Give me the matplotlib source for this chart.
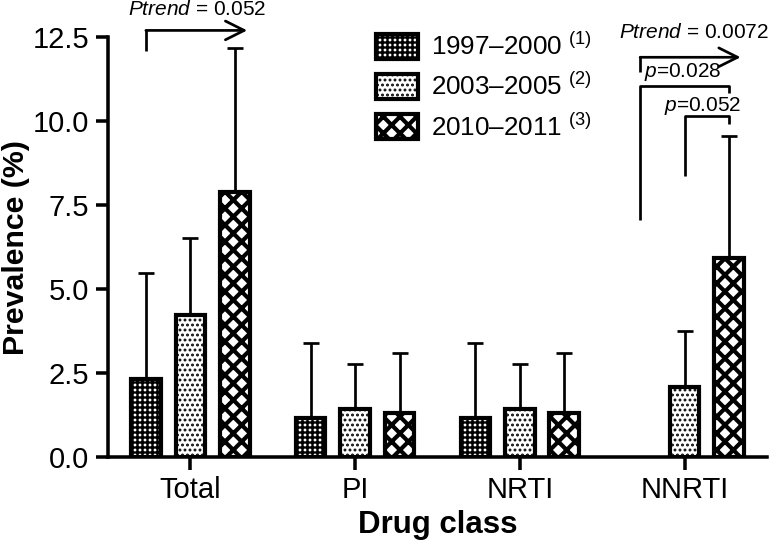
import numpy as np
import matplotlib
matplotlib.use("Agg")
import matplotlib.pyplot as plt

plt.rcParams['font.family'] = ['Liberation Sans', 'DejaVu Sans']
plt.rcParams['mathtext.fontset'] = 'custom'
plt.rcParams['mathtext.rm'] = 'Liberation Sans'
plt.rcParams['mathtext.it'] = 'Liberation Sans:italic'

categories = ['Total', 'PI', 'NRTI', 'NNRTI']
periods = ['1997–2000', '2003–2005', '2010–2011']
prev_9700 = [2.33, 1.16, 1.16, 0.0]
prev_0305 = [4.24, 1.43, 1.43, 2.09]
prev_1011 = [7.91, 1.31, 1.31, 5.94]
upper_9700 = [5.49, 3.40, 3.40, 0.0]
upper_0305 = [6.54, 2.78, 2.78, 3.76]
upper_1011 = [12.18, 3.10, 3.10, 9.55]

values = [prev_9700, prev_0305, prev_1011]
uppers = [upper_9700, upper_0305, upper_1011]
hatches = ['+++++', '.....', 'xxx']
hatch_lw = [1.15, 0.9, 2.0]
offsets = [-0.27, 0.0, 0.27]
width = 0.18


def set_hlw(patch, lw):
    if hasattr(patch, 'set_hatch_linewidth'):
        patch.set_hatch_linewidth(lw)
    else:
        patch._hatch_linewidth = lw


fig = plt.figure(figsize=(774 / 150, 547 / 150), dpi=150)
ax = fig.add_axes([0.1395, 0.1645, 0.8514, 0.767])

x = np.arange(len(categories))
handles = []
for k in range(3):
    v = np.array(values[k])
    up = np.array(uppers[k])
    keep = v > 0
    plt.rcParams['hatch.linewidth'] = hatch_lw[k]
    bars = ax.bar(x[keep] + offsets[k], v[keep], width=width, color='white',
                  edgecolor='black', linewidth=2.0, hatch=hatches[k], zorder=3)
    for p in bars:
        set_hlw(p, hatch_lw[k])
    ax.errorbar(x[keep] + offsets[k], v[keep], yerr=[np.zeros(keep.sum()), up[keep] - v[keep]],
                fmt='none', ecolor='black', elinewidth=1.3, capsize=4, capthick=1.3, zorder=2)
    handles.append(bars)

ax.set_xlim(-0.5, 3.5)
ax.set_ylim(0, 12.5)
ax.set_yticks([0, 2.5, 5, 7.5, 10, 12.5])
ax.set_yticklabels(['0.0', '2.5', '5.0', '7.5', '10.0', '12.5'])
ax.set_xticks(x)
ax.set_xticklabels(categories)
ax.tick_params(axis='both', labelsize=14, width=1.7, length=6, pad=3)
for s in ['top', 'right']:
    ax.spines[s].set_visible(False)
for s in ['left', 'bottom']:
    ax.spines[s].set_linewidth(1.7)

ax.set_ylabel('Prevalence (%)', fontsize=14.5, fontweight='bold')
ax.yaxis.set_label_coords(-0.119, 0.5)
ax.set_xlabel('Drug class', fontsize=15, fontweight='bold', labelpad=3)

labels = [periods[i] + ' $^{(%d)}$' % (i + 1) for i in range(3)]
leg = ax.legend(handles, labels, loc='upper left', bbox_to_anchor=(0.407, 1.01),
                frameon=False, fontsize=12.5, handlelength=1.6, handleheight=1.1,
                labelspacing=0.5, borderpad=0, borderaxespad=0, handletextpad=0.5)
for p, lw in zip(leg.get_patches(), hatch_lw):
    set_hlw(p, lw)

lk = dict(color='black', lw=1.3, clip_on=False, solid_capstyle='butt')
aprops = dict(arrowstyle='->,head_length=0.9,head_width=0.45', lw=1.3, color='black',
              shrinkA=0, shrinkB=0)

# Total trend arrow
ax.plot([-0.27, -0.27], [12.11, 12.71], **lk)
ax.annotate('', xy=(0.345, 12.71), xytext=(-0.27, 12.71), arrowprops=aprops,
            annotation_clip=False)
ax.text(0.04, 13.34, r'$\it{Ptrend}$ = 0.052', ha='center', va='center', fontsize=10,
        clip_on=False)

# NNRTI trend arrow and brackets
ax.plot([2.73, 2.73], [11.46, 11.91], **lk)
ax.annotate('', xy=(3.34, 11.91), xytext=(2.73, 11.91), arrowprops=aprops,
            annotation_clip=False)
ax.text(3.055, 12.66, r'$\it{Ptrend}$ = 0.0072', ha='center', va='center', fontsize=10,
        clip_on=False)

ax.plot([2.73, 2.73, 3.27, 3.27], [7.07, 11.04, 11.04, 10.84], **lk)
ax.text(2.99, 11.47, r'$\it{p}$=0.028', ha='center', va='center', fontsize=10, clip_on=False)

ax.plot([3.0, 3.0, 3.27, 3.27], [8.36, 10.15, 10.15, 9.91], **lk)
ax.text(3.11, 10.45, r'$\it{p}$=0.052', ha='center', va='center', fontsize=10, clip_on=False)

fig.savefig('out.png', dpi=150)
